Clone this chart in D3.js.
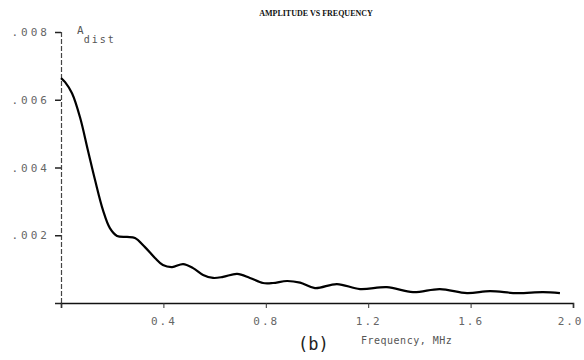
<!DOCTYPE html>
<html>
<head>
<meta charset="utf-8">
<script src="https://cdn.jsdelivr.net/npm/d3@7"></script>
<style>
  body { margin: 0; background: #fff; }
  svg { display: block; }
</style>
</head>
<body>
<svg id="chart" width="584" height="360"></svg>
<script>
// frequency in MHz, amplitude
const freq = [0, 0.016, 0.043, 0.074, 0.105, 0.133, 0.164, 0.191, 0.219, 0.258, 0.289, 0.328, 0.367,
  0.398, 0.434, 0.477, 0.516, 0.555, 0.594, 0.633, 0.688, 0.738, 0.789, 0.828, 0.883, 0.934,
  0.992, 1.078, 1.168, 1.273, 1.375, 1.480, 1.586, 1.676, 1.781, 1.883, 1.949];
const amp = [0.00664, 0.00652, 0.00619, 0.00549, 0.00451, 0.00363, 0.00274, 0.00221, 0.00198, 0.00195,
  0.00192, 0.00165, 0.00133, 0.00112, 0.00106, 0.00115, 0.00103, 0.00083, 0.00074, 0.00077, 0.00086,
  0.00074, 0.00059, 0.00059, 0.00065, 0.00060, 0.00044, 0.00056, 0.00041, 0.00047, 0.00032, 0.00041,
  0.00029, 0.00035, 0.00029, 0.00032, 0.00029];

const xTicks = [0, 0.4, 0.8, 1.2, 1.6, 2.0];
const yTicks = [0, 0.002, 0.004, 0.006, 0.008];

const svg = d3.select('#chart');
const mono = 'DejaVu Sans Mono, monospace';

const x = d3.scaleLinear().domain([0, 2]).range([61, 573]);
const y = d3.scaleLinear().domain([0, 0.008]).range([303, 32]);

// title
svg.append('text')
    .attr('x', 316)
    .attr('y', 16)
    .attr('text-anchor', 'middle')
    .attr('font-family', 'Liberation Serif, serif')
    .attr('font-weight', 'bold')
    .attr('font-size', 8)
    .attr('fill', '#111')
    .text('AMPLITUDE VS FREQUENCY');

// y axis
const yAxis = svg.append('g')
    .attr('transform', 'translate(' + x(0) + ',0)')
    .call(d3.axisLeft(y)
        .tickValues(yTicks)
        .tickSize(6)
        .tickPadding(5)
        .tickFormat(d => d ? d3.format('.3f')(d).replace(/^0/, '') : ''));
yAxis.select('.domain')
    .attr('stroke', '#444')
    .attr('stroke-width', 1.2)
    .attr('stroke-dasharray', '5,2');
yAxis.selectAll('.tick line').attr('stroke', '#222').attr('stroke-width', 1.5);
yAxis.selectAll('.tick text')
    .attr('font-family', mono)
    .attr('font-size', 11)
    .attr('letter-spacing', 3)
    .attr('fill', '#666');

// x axis
const xAxis = svg.append('g')
    .attr('transform', 'translate(0,' + y(0) + ')')
    .call(d3.axisBottom(x)
        .tickValues(xTicks)
        .tickSize(5)
        .tickPadding(9)
        .tickFormat(d => d ? d3.format('.1f')(d) : ''));
xAxis.select('.domain').attr('stroke', '#111').attr('stroke-width', 1.6);
xAxis.selectAll('.tick line').attr('stroke', '#333').attr('stroke-width', 1);
xAxis.selectAll('.tick text')
    .attr('font-family', mono)
    .attr('font-size', 11)
    .attr('letter-spacing', 2)
    .attr('fill', '#666');
// last label sits against the right edge
xAxis.selectAll('.tick text')
    .filter(d => d === 2)
    .attr('text-anchor', 'end')
    .attr('dx', 10);

// axis labels
const yLab = svg.append('text')
    .attr('x', 77)
    .attr('y', 34)
    .attr('font-family', mono)
    .attr('font-size', 11)
    .attr('fill', '#555')
    .text('A');
yLab.append('tspan')
    .attr('dy', 9)
    .attr('font-size', 10)
    .attr('letter-spacing', 2)
    .text('dist');

svg.append('text')
    .attr('x', 298)
    .attr('y', 350)
    .attr('font-family', mono)
    .attr('font-size', 17)
    .attr('fill', '#222')
    .text('(b)');

svg.append('text')
    .attr('x', 361)
    .attr('y', 344)
    .attr('font-family', mono)
    .attr('font-size', 10)
    .attr('letter-spacing', 0.5)
    .attr('fill', '#555')
    .text('Frequency, MHz');

// trace
const line = d3.line()
    .x((d, i) => x(freq[i]))
    .y(d => y(d))
    .curve(d3.curveCatmullRom.alpha(0.5));

svg.append('path')
    .datum(amp)
    .attr('d', line)
    .attr('fill', 'none')
    .attr('stroke', '#000')
    .attr('stroke-width', 2.2);
</script>
</body>
</html>
